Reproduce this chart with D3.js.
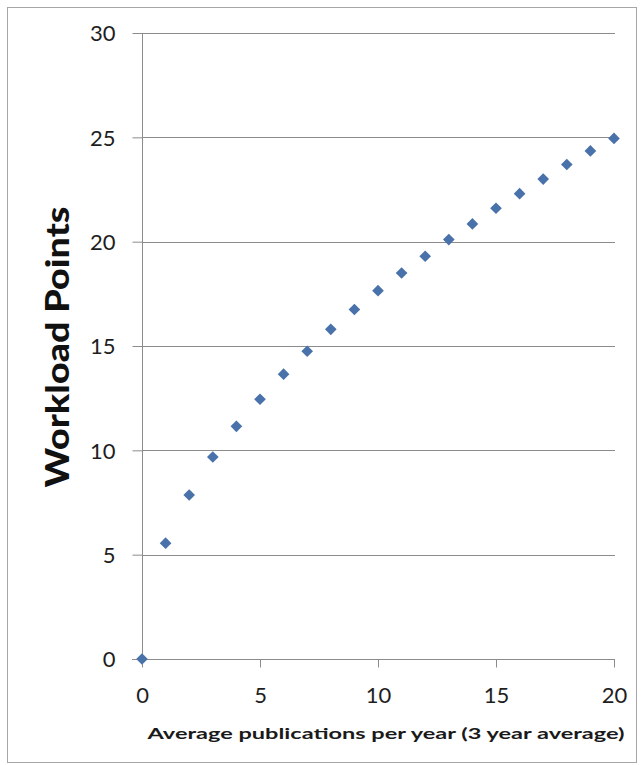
<!DOCTYPE html>
<html><head><meta charset="utf-8">
<script src="https://cdn.jsdelivr.net/npm/d3@7"></script>
<style>
html,body{margin:0;padding:0;background:#fff;}
svg{display:block;}
</style></head>
<body>
<svg id="chart" width="643" height="765"></svg>
<script>
const publications = [0,1,2,3,4,5,6,7,8,9,10,11,12,13,14,15,16,17,18,19,20];
const workloadPoints = [0,5.55,7.86,9.68,11.15,12.45,13.65,14.75,15.8,16.75,17.65,18.5,19.3,20.1,20.85,21.6,22.3,23.0,23.7,24.35,24.95];
const xTicks = [0,5,10,15,20];
const yTicks = [0,5,10,15,20,25,30];
const xTitle = "Average publications per year (3 year average)";
const yTitle = "Workload Points";

const svg = d3.select("#chart");
const font = "Lato, 'Open Sans', sans-serif";

// outer border
svg.append("rect").attr("x",7.5).attr("y",7.5).attr("width",629).attr("height",755)
  .attr("fill","#fff").attr("stroke","#a6a6a6").attr("stroke-width",1);

const x = d3.scaleLinear().domain([0,20]).range([142,614]);
const y = d3.scaleLinear().domain([0,30]).range([659,33]);

// gridlines
svg.append("g").selectAll("line").data(yTicks.filter(d=>d>0)).join("line")
  .attr("x1",x(0)).attr("x2",x(20)+1)
  .attr("y1",d=>Math.round(y(d))+0.5).attr("y2",d=>Math.round(y(d))+0.5)
  .attr("stroke","#8c8c8c").attr("stroke-width",1);

// y axis
const yAxis = svg.append("g").attr("transform",`translate(${x(0)+0.5},0)`)
  .call(d3.axisLeft(y).tickValues(yTicks).tickSize(10).tickPadding(17).tickFormat(d3.format("d")));
yAxis.select(".domain").attr("stroke","#8c8c8c").attr("d",`M0,${y(0)}V${y(30)}`);
yAxis.selectAll(".tick line").attr("stroke","#8c8c8c");
yAxis.selectAll(".tick text").attr("font-family",font).attr("font-size",22).attr("fill","#1e1e1e").attr("dy","0.36em");

// x axis
const xAxis = svg.append("g").attr("transform",`translate(0,${Math.round(y(0))+0.5})`)
  .call(d3.axisBottom(x).tickValues(xTicks).tickSize(8).tickPadding(20).tickFormat(d3.format("d")));
xAxis.select(".domain").attr("stroke","#8c8c8c").attr("d",`M${x(0)-10},0H${x(20)+1}`);
xAxis.selectAll(".tick line").attr("stroke","#8c8c8c");
xAxis.selectAll(".tick text").attr("font-family",font).attr("font-size",22).attr("fill","#1e1e1e");

// points (diamonds = rotated squares)
const square = d3.symbol().type(d3.symbolSquare).size(68);
svg.append("g").selectAll("path").data(publications).join("path")
  .attr("d",square)
  .attr("transform",(d,i)=>`translate(${x(d)},${y(workloadPoints[i])}) rotate(45)`)
  .attr("fill","#4A72AA");

// titles
svg.append("text").attr("x",386).attr("y",739).attr("text-anchor","middle")
  .attr("font-family",font).attr("font-weight","bold").attr("font-size",16).attr("fill","#1a1a1a")
  .attr("textLength",477).attr("lengthAdjust","spacingAndGlyphs")
  .text(xTitle);
svg.append("text").attr("transform","translate(69,347) rotate(-90)").attr("text-anchor","middle")
  .attr("font-family",font).attr("font-weight","900").attr("font-size",32).attr("fill","#111")
  .attr("textLength",281).attr("lengthAdjust","spacingAndGlyphs")
  .text(yTitle);
</script>
</body></html>
